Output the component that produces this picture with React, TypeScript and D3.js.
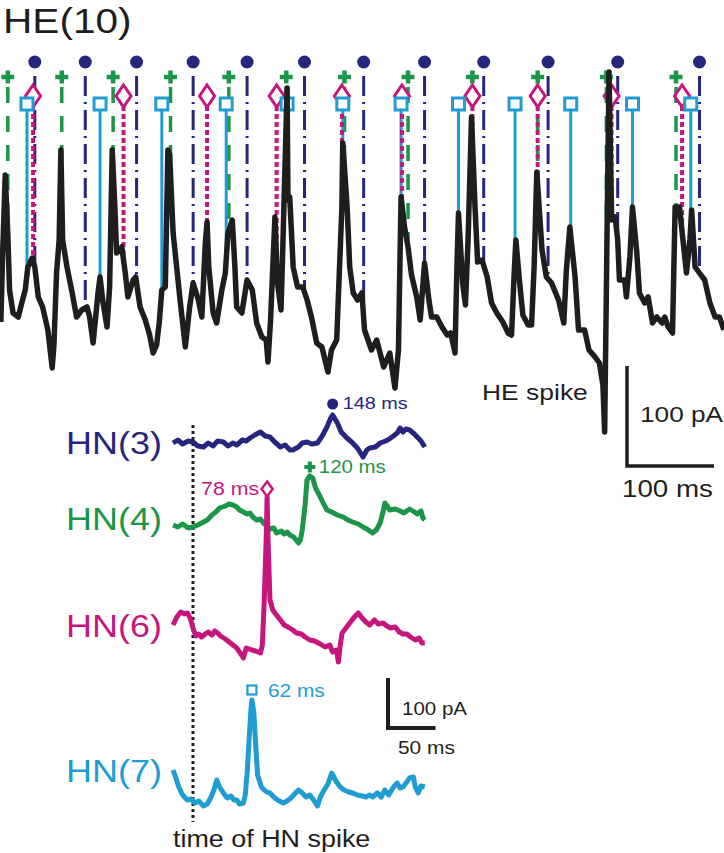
import React from "react";
import * as d3 from "d3";

// ---------- DATA ----------
// HE(10) voltage-clamp trace: [time ms, current pA]
const heTrace: [number, number][] = [
  [1,-22],[3,45],[6,125],[9,65],[11,10],[15,-13],[21,-17],[25,-3],[29,10],[32,33],[37,42],[40,33],[44,3],[49,-7],[55,-30],[60,-68],[62,-45],[65,27],[68,60],[70,150],
  [72,60],[77,33],[83,7],[88,-17],[94,-10],[100,-7],[103,-17],[107,-43],[113,10],[115,23],[118,0],[123,-27],[126,13],[129,150],[132,93],[134,47],[140,53],[144,27],[147,3],[153,20],
  [156,23],[161,-7],[167,-20],[172,-35],[176,-53],[180,-45],[183,-23],[186,10],[190,13],[193,150],[195,145],[199,67],[207,0],[213,-47],[218,-7],[222,17],[228,0],[232,-17],[236,57],[238,78],
  [240,33],[245,-13],[249,-23],[255,10],[259,27],[262,67],[267,80],[270,33],[272,-7],[278,-13],[284,20],[290,10],[295,-23],[301,-37],[306,-40],[308,-62],[311,-20],[316,83],[319,17],[323,-10],
  [325,50],[330,212],[331,100],[333,103],[337,33],[342,13],[348,13],[353,0],[358,-17],[364,-43],[370,-47],[377,-72],[381,-50],[387,-40],[390,27],[393,93],[394,157],[399,93],[402,33],[406,7],
  [411,0],[416,7],[419,-30],[427,-50],[433,-40],[441,-67],[448,-53],[454,-88],[458,-50],[461,103],[465,73],[469,53],[473,25],[479,3],[483,-20],[488,37],[493,0],[496,-17],[502,-17],[508,-27],
  [514,-35],[518,-33],[523,-53],[525,27],[527,87],[532,15],[535,-5],[538,60],[542,183],[546,93],[549,38],[554,40],[560,23],[565,-3],[571,-13],[578,-22],[584,-33],[588,-35],[591,27],[593,60],
  [597,20],[601,-15],[607,-25],[611,-25],[614,35],[617,128],[623,50],[628,23],[634,17],[642,0],[648,-23],[651,30],[655,73],[661,23],[665,-30],[672,-30],[677,-50],[684,-57],[689,-63],[693,-85],
  [695,-132],[700,228],[703,80],[707,83],[710,60],[712,20],[718,20],[720,3],[724,43],[727,93],[732,47],[735,7],[741,-3],[745,3],[750,-23],[755,-17],[761,-23],[764,-17],[768,-27],[773,-33],
  [776,93],[781,93],[785,60],[789,27],[793,60],[795,90],[799,33],[804,27],[810,20],[816,-3],[822,-17],[827,-17],[832,-30]
];

// HN spike times (ms) marked on the HE trace
const hn3Times = [40, 98, 157, 222, 284, 350, 418, 488, 556, 630, 710, 804];
const hn4Times = [9, 71, 130, 196, 263, 329, 396, 469, 543, 618, 697, 777];
const hn6Times = [38, 142, 238, 318, 393, 462, 543, 618, 703, 784];
const hn7Times = [31, 115, 186, 260, 330, 394, 461, 527, 592, 656, 727, 794];

// Spike-triggered averages: [time from HN spike ms, current pA]
const hn3Avg: [number, number][] = [
  [-21,0],[-16,6],[-11,-2],[-5,4],[0,2],[5,-6],[11,-8],[16,0],[21,-6],[26,4],[32,2],[37,-6],[42,0],[46,-4],[52,6],[56,4],[60,10],[65,16],[71,22],[76,14],
  [81,12],[86,2],[92,-8],[97,-4],[102,-14],[105,-14],[111,-8],[115,0],[120,2],[125,-2],[131,0],[136,14],[141,32],[145,50],[147,56],[152,40],[156,22],[162,10],[167,2],[173,-10],
  [179,-28],[183,-14],[186,-10],[192,-8],[197,0],[200,2],[205,6],[211,14],[215,20],[218,30],[221,22],[224,28],[228,26],[233,18],[236,12],[240,4],[244,-8]
];
const hn4Avg: [number, number][] = [
  [-21,0],[-16,-4],[-11,2],[-5,-6],[0,-4],[5,0],[11,6],[15,10],[20,20],[24,26],[28,34],[34,38],[38,42],[42,40],[46,36],[49,30],[53,26],[57,22],[60,24],[63,16],
  [67,10],[71,12],[74,4],[78,-2],[81,-8],[85,-6],[88,-16],[93,-12],[96,-18],[99,-14],[102,-20],[106,-24],[111,-36],[113,-30],[115,-10],[118,40],[120,90],[123,98],[126,94],[129,74],
  [134,56],[137,44],[141,30],[146,26],[152,20],[158,16],[163,10],[168,6],[174,2],[179,-4],[183,-8],[186,-12],[189,-16],[193,-10],[197,4],[200,26],[202,44],[205,36],[207,30],[213,32],
  [218,28],[222,24],[225,28],[228,32],[233,26],[236,22],[240,28],[242,14],[244,10]
];
const hn6Avg: [number, number][] = [
  [-21,30],[-17,46],[-13,56],[-9,52],[-6,54],[-3,44],[0,24],[3,8],[6,12],[9,6],[13,12],[16,16],[20,10],[23,18],[26,14],[29,8],[34,2],[38,-4],[42,-10],[46,-16],
  [49,-24],[53,-36],[56,-16],[59,-18],[62,-20],[66,-22],[71,-26],[73,-10],[75,80],[77,200],[78,286],[79,200],[81,80],[84,60],[87,52],[92,40],[96,30],[100,26],[105,20],[109,14],
  [114,12],[118,6],[123,0],[128,-2],[134,-8],[139,-14],[144,-10],[147,-24],[151,-20],[153,-44],[155,-10],[157,14],[161,24],[165,34],[169,44],[174,54],[178,44],[182,36],[186,30],[191,40],
  [195,32],[200,34],[204,28],[208,24],[213,26],[217,16],[221,12],[225,12],[229,6],[234,0],[238,4],[241,-6],[244,-6]
];
const hn7Avg: [number, number][] = [
  [-21,54],[-18,38],[-15,20],[-11,4],[-6,-6],[-2,-4],[2,-12],[6,-8],[11,-18],[15,-14],[19,0],[22,14],[25,34],[28,20],[32,8],[36,-2],[40,2],[43,-6],[46,-6],[49,-14],
  [53,-12],[55,4],[57,48],[59,114],[61,174],[62,194],[64,170],[66,104],[68,44],[72,20],[75,14],[78,10],[81,8],[85,0],[89,-6],[95,-12],[99,-8],[103,-2],[107,6],[111,14],
  [115,8],[119,0],[123,4],[127,-6],[131,-18],[134,0],[138,14],[142,26],[146,48],[151,30],[155,20],[159,14],[164,10],[168,8],[173,4],[178,2],[182,0],[186,4],[189,0],[194,8],
  [198,0],[202,14],[206,4],[211,20],[215,28],[218,18],[221,20],[225,30],[228,38],[232,40],[234,20],[237,8],[240,22],[244,20]
];

const hnNames = ["HN(3)", "HN(4)", "HN(6)", "HN(7)"];
const peakLabels = ["148 ms", "120 ms", "78 ms", "62 ms"];
const heScaleMs = 100;
const heScalePA = 100;
const avgScaleMs = 50;
const avgScalePA = 100;

// ---------- STYLE ----------
const NAVY = "#27267f";
const GREEN = "#1b9547";
const MAGENTA = "#c6167d";
const CYAN = "#1f9dd3";
const BLACK = "#1e1e1e";
const FONT = "'Liberation Sans', Arial, Helvetica, sans-serif";
const SX = 1.16;

const W = 724, H = 853;

function T(props: { x: number; y: number; size: number; fill: string; anchor?: string; children: React.ReactNode }) {
  return (
    <text transform={`translate(${props.x},${props.y}) scale(${SX},1)`} fontFamily={FONT}
      fontSize={props.size} fill={props.fill} textAnchor={props.anchor || "start"}>
      {props.children}
    </text>
  );
}

export default function App() {
  // top panel scales
  const xTop = d3.scaleLinear().domain([0, 100]).range([0, 87]);
  const yTop = d3.scaleLinear().domain([0, 100]).range([300, 200]);
  const heLine = d3.line<[number, number]>().x(d => xTop(d[0])).y(d => yTop(d[1]));

  const sorted = heTrace.slice().sort((a, b) => a[0] - b[0]);
  const bis = d3.bisector((d: [number, number]) => d[0]).left;
  const valueAt = (t: number) => {
    const i = Math.max(1, Math.min(sorted.length - 1, bis(sorted, t)));
    const a = sorted[i - 1], b = sorted[i];
    const f = (t - a[0]) / (b[0] - a[0] || 1);
    return a[1] + (b[1] - a[1]) * f;
  };

  // lower panel scales
  const xLow = d3.scaleLinear().domain([0, 100]).range([193, 288]);
  const baselines = [443, 525, 640, 797];
  const yLow = baselines.map(b => d3.scaleLinear().domain([0, 100]).range([b, b - 50]));
  const avgs = [hn3Avg, hn4Avg, hn6Avg, hn7Avg];
  const colors = [NAVY, GREEN, MAGENTA, CYAN];
  const labelY = [454, 530, 637, 782];

  const plus = (cx: number, cy: number, s: number, c: string, w: number, key: string) => (
    <g key={key}>
      <line x1={cx - s} x2={cx + s} y1={cy} y2={cy} stroke={c} strokeWidth={w} />
      <line x1={cx} x2={cx} y1={cy - s} y2={cy + s} stroke={c} strokeWidth={w} />
    </g>
  );
  const diamond = (cx: number, cy: number, w: number, h: number, key: string, sw = 3) => (
    <path key={key} d={`M${cx},${cy - h / 2}L${cx + w / 2},${cy}L${cx},${cy + h / 2}L${cx - w / 2},${cy}Z`}
      fill="#fff" stroke={MAGENTA} strokeWidth={sw} />
  );
  const square = (cx: number, cy: number, s: number, key: string, sw = 3) => (
    <rect key={key} x={cx - s / 2} y={cy - s / 2} width={s} height={s} fill="#fff" stroke={CYAN} strokeWidth={sw} />
  );

  const DOT_Y = 62, PLUS_Y = 77, DIA_Y = 96, SQ_Y = 104;

  return (
    <svg width={W} height={H} style={{ position: "absolute", left: 0, top: 0, background: "#fff" }}>
      <rect width={W} height={H} fill="#fff" />
      <T x={3} y={33} size={35} fill={BLACK}>HE(10)</T>

      {/* vertical drop lines */}
      {hn3Times.map((t, i) => (
        <line key={"l3" + i} x1={xTop(t)} x2={xTop(t)} y1={DOT_Y + 14} y2={yTop(valueAt(t))}
          stroke={NAVY} strokeWidth={3} strokeDasharray="20 6 2 6" />
      ))}
      {hn4Times.map((t, i) => (
        <line key={"l4" + i} x1={xTop(t)} x2={xTop(t)} y1={PLUS_Y + 10} y2={yTop(valueAt(t))}
          stroke={GREEN} strokeWidth={3.5} strokeDasharray="16 13" />
      ))}
      {hn7Times.map((t, i) => (
        <line key={"l7" + i} x1={xTop(t)} x2={xTop(t)} y1={SQ_Y} y2={yTop(valueAt(t))}
          stroke={CYAN} strokeWidth={3} />
      ))}
      {hn6Times.map((t, i) => (
        <line key={"l6" + i} x1={xTop(t)} x2={xTop(t)} y1={DIA_Y + 10} y2={yTop(valueAt(t))}
          stroke={MAGENTA} strokeWidth={4} strokeDasharray="5 3" />
      ))}

      {/* markers */}
      {hn3Times.map((t, i) => <circle key={"d" + i} cx={xTop(t)} cy={DOT_Y} r={6.5} fill={NAVY} />)}
      {hn4Times.map((t, i) => plus(xTop(t), PLUS_Y, 6.5, GREEN, 4.5, "p" + i))}
      {hn6Times.map((t, i) => diamond(xTop(t), DIA_Y, 15, 22, "m" + i))}
      {hn7Times.map((t, i) => square(xTop(t), SQ_Y, 12, "s" + i))}

      {/* HE trace */}
      <path d={heLine(heTrace) || ""} fill="none" stroke={BLACK} strokeWidth={5.5} strokeLinejoin="round" />

      <T x={482} y={400} size={22.8} fill={BLACK}>HE spike</T>

      {/* top scale bar */}
      <path d={`M627,${466 - (yTop(0) - yTop(heScalePA))}V466H${627 + xTop(heScaleMs)}`}
        fill="none" stroke={BLACK} strokeWidth={3.5} />
      <T x={640} y={422} size={22.6} fill={BLACK}>100 pA</T>
      <T x={622} y={497} size={23.9} fill={BLACK}>100 ms</T>

      {/* lower panel */}
      <line x1={xLow(0)} x2={xLow(0)} y1={425} y2={822} stroke={BLACK} strokeWidth={3} strokeDasharray="3 3" />
      {avgs.map((a, k) => {
        const ln = d3.line<[number, number]>().x(d => xLow(d[0])).y(d => yLow[k](d[1]));
        return <path key={"avg" + k} d={ln(a) || ""} fill="none" stroke={colors[k]} strokeWidth={5} strokeLinejoin="round" />;
      })}
      {hnNames.map((n, k) => (
        <T key={"n" + k} x={66} y={labelY[k]} size={31} fill={colors[k]}>{n}</T>
      ))}

      {(() => {
        const pk = avgs.map(a => a.reduce((m, d) => (d[1] > m[1] ? d : m), a[0]));
        const px = pk.map(p => xLow(p[0]));
        const py = pk.map((p, k) => yLow[k](p[1]));
        return (
          <g>
            <circle cx={px[0]} cy={py[0] - 11} r={5.5} fill={NAVY} />
            <T x={px[0] + 10} y={py[0] - 6} size={17.1} fill={NAVY}>{peakLabels[0]}</T>
            {plus(px[1], py[1] - 9, 5.5, GREEN, 4, "lp")}
            <T x={px[1] + 9} y={py[1] - 3} size={17.6} fill={GREEN}>{peakLabels[1]}</T>
            {diamond(px[2], py[2] - 8, 11, 15, "ld", 2.5)}
            <T x={px[2] - 8} y={py[2] - 2} anchor="end" size={18.4} fill={MAGENTA}>{peakLabels[2]}</T>
            {square(px[3], py[3] - 10, 9, "ls", 2.2)}
            <T x={px[3] + 16} y={py[3] - 3} size={18} fill={CYAN}>{peakLabels[3]}</T>
          </g>
        );
      })()}

      {/* lower scale bar */}
      <path d={`M388,${728 - (yLow[0](0) - yLow[0](avgScalePA))}V728H${388 + (xLow(avgScaleMs) - xLow(0))}`}
        fill="none" stroke={BLACK} strokeWidth={4} />
      <T x={402} y={715} size={17.7} fill={BLACK}>100 pA</T>
      <T x={398} y={754} size={18} fill={BLACK}>50 ms</T>

      <T x={173} y={847} size={23.2} fill={BLACK}>time of HN spike</T>
    </svg>
  );
}
